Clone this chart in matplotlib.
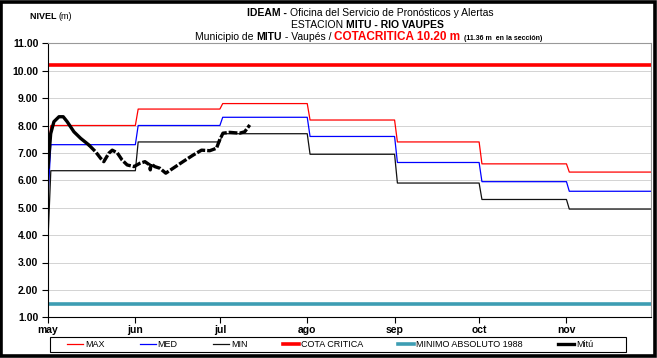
import numpy as np
import matplotlib
matplotlib.use("Agg")
import matplotlib.pyplot as plt
from matplotlib.lines import Line2D
from matplotlib.patches import Rectangle

plt.rcParams['font.family'] = ['Liberation Sans', 'DejaVu Sans']

# dias desde el 1 de mayo
month_starts = [0, 31, 61, 92, 123, 153, 184]
month_labels = ['may', 'jun', 'jul', 'ago', 'sep', 'oct', 'nov']
x_end = 214

# niveles mensuales historicos (m)
max_start = 7.0
max_levels = [8.0, 8.6, 8.8, 8.2, 7.4, 6.6, 6.3]
med_start = 5.3
med_levels = [7.3, 8.0, 8.3, 7.6, 6.65, 5.95, 5.6]
min_start = 3.85
min_levels = [6.35, 7.4, 7.7, 6.95, 5.9, 5.3, 4.95]

cota_critica = 10.20
minimo_absoluto = 1.48

# registro de la estacion Mitu
mitu_days = [0, 0.95, 2.1, 3.9, 5.4, 6.8, 9.2, 11.6, 14.5, 16.9, 18.7, 19.8,
             21.6, 22.8, 24.6, 26.3, 28.1, 30.5, 32.6, 34.4, 36.1, 36.3, 36.6,
             37.9, 39.7, 41.8, 44.4, 47.9, 51.5, 54.5, 57.4, 59.8, 60.9, 62.1,
             64.5, 68.0, 69.8, 71.6]
mitu_levels = [6.45, 7.7, 8.14, 8.32, 8.32, 8.14, 7.77, 7.53, 7.29, 7.04, 6.8, 6.68,
               6.99, 7.1, 7.0, 6.74, 6.56, 6.5, 6.62, 6.68, 6.56, 6.38, 6.6,
               6.5, 6.44, 6.26, 6.44, 6.68, 6.92, 7.1, 7.08, 7.17, 7.47, 7.72,
               7.75, 7.72, 7.77, 8.02]
mitu_solid_until = 8  # primeros puntos sin cortes


def step_series(start, levels):
    xs = [0]
    ys = [start]
    for i, v in enumerate(levels):
        xs.append(month_starts[i] + 1)
        ys.append(v)
        if i + 1 < len(levels):
            xs.append(month_starts[i + 1])
        else:
            xs.append(x_end)
        ys.append(v)
    return xs, ys


W, H = 657, 358
fig = plt.figure(figsize=(W / 100, H / 100), dpi=100)
ax = fig.add_axes([48 / W, 1 - 317.3 / H, 603 / W, 274 / H])

xs, ys = step_series(max_start, max_levels)
ax.plot(xs, ys, color='#ff0000', lw=0.9)
xs, ys = step_series(med_start, med_levels)
ax.plot(xs, ys, color='#0000ff', lw=0.9)
xs, ys = step_series(min_start, min_levels)
ax.plot(xs, ys, color='#111111', lw=0.9)
ax.axhline(cota_critica, color='#ff0000', lw=2.6)
ax.axhline(minimo_absoluto, color='#3d9db3', lw=2.6)

k = mitu_solid_until
ax.plot(mitu_days[:k + 1], mitu_levels[:k + 1], color='black', lw=2.4,
        solid_capstyle='round', solid_joinstyle='round')
ax.plot(mitu_days[k:], mitu_levels[k:], color='black', lw=2.4,
        linestyle=(0, (2.6, 0.6)), dash_capstyle='butt', dash_joinstyle='round')

ax.set_xlim(0, x_end)
ax.set_ylim(1, 11)
ax.set_yticks(np.arange(1, 12))
ax.set_yticklabels(['%.2f' % v for v in range(1, 12)])
ax.set_xticks(month_starts)
ax.set_xticklabels(month_labels)
ax.tick_params(axis='both', labelsize=7.5, length=4, width=0.8, color='black')
ax.tick_params(axis='x', pad=1.5)
ax.tick_params(axis='y', pad=3)
for lab in ax.get_xticklabels() + ax.get_yticklabels():
    lab.set_fontweight('bold')

ax.yaxis.grid(True, linestyle=(0, (1.2, 1.2)), color='#999999', lw=0.6)
ax.set_axisbelow(True)
for side in ['left', 'bottom']:
    ax.spines[side].set_color('black')
    ax.spines[side].set_linewidth(0.8)
for side in ['top', 'right']:
    ax.spines[side].set_color('#999999')
    ax.spines[side].set_linewidth(0.8)


def text_row(y_px, parts, x_px, align='center'):
    renderer = fig.canvas.get_renderer()
    texts = [fig.text(0, 1 - y_px / H, s, va='baseline', **kw) for s, kw in parts]
    widths = [t.get_window_extent(renderer).width for t in texts]
    x = x_px - sum(widths) / 2 if align == 'center' else x_px
    for t, w in zip(texts, widths):
        t.set_x(x / W)
        x += w


reg = dict(fontsize=7.5)
bold = dict(fontsize=7.5, fontweight='bold')
text_row(15.5, [('IDEAM - ', bold),
                ('Oficina del Servicio de Pronósticos y Alertas', reg)], 370)
text_row(27.5, [('ESTACION ', reg), ('MITU - RIO VAUPES', bold)], 367)
text_row(39.5, [('Municipio de ', reg), ('MITU', bold), (' - Vaupés / ', reg),
                ('COTACRITICA 10.20 m', dict(fontsize=8.5, fontweight='bold', color='#ff0000')),
                ('  (11.36 m  en la sección)', dict(fontsize=5, fontweight='bold'))], 369)
text_row(19, [('NIVEL ', dict(fontsize=6.5, fontweight='bold')),
              ('(m)', dict(fontsize=6.5))], 30, align='left')

handles = [
    Line2D([], [], color='#ff0000', lw=0.9),
    Line2D([], [], color='#0000ff', lw=0.9),
    Line2D([], [], color='#111111', lw=0.9),
    Line2D([], [], color='#ff0000', lw=2.6),
    Line2D([], [], color='#3d9db3', lw=2.6),
    Line2D([], [], color='black', lw=2.4),
]
names = ['MAX', 'MED', 'MIN', 'COTA CRITICA', 'MINIMO ABSOLUTO 1988', 'Mitú']
fig.legend(handles, names, loc='center', bbox_to_anchor=(330 / W, 1 - 344.5 / H),
           ncol=6, frameon=False, fontsize=6.5, handlelength=1.8,
           handletextpad=0.2, columnspacing=3.9, borderpad=0)
fig.patches.append(Rectangle((50 / W, 1 - 352 / H), 576 / W, 15 / H,
                             transform=fig.transFigure, fill=False,
                             edgecolor='black', lw=0.8))
fig.patches.append(Rectangle((1.2 / W, 1.8 / H), (W - 3) / W, (H - 3.5) / H,
                             transform=fig.transFigure, fill=False,
                             edgecolor='black', lw=2.6))

fig.savefig('out.png', dpi=100)
